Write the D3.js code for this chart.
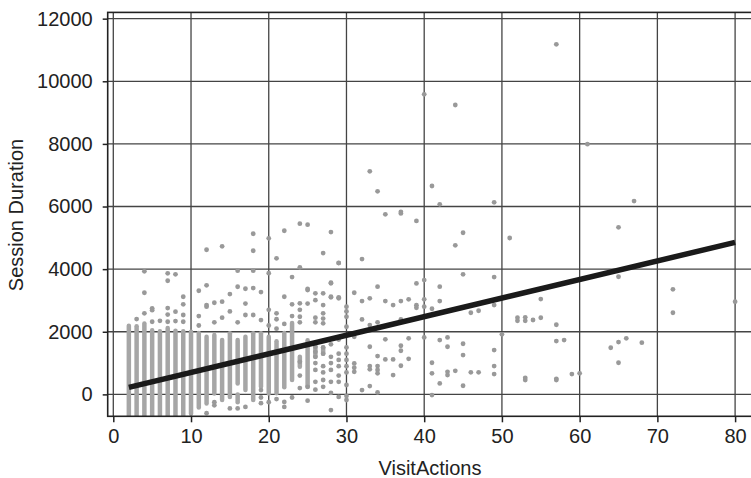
<!DOCTYPE html>
<html>
<head>
<meta charset="utf-8">
<script src="https://cdn.jsdelivr.net/npm/d3@7"></script>
<style>
  html, body { margin: 0; padding: 0; background: #fff; }
  svg { display: block; }
  text { font-family: "Liberation Sans", Arial, Helvetica, sans-serif; fill: #222; }
</style>
</head>
<body>
<svg id="chart" width="751" height="478"></svg>
<script>
// ---------- data ----------
const xTicks = [0, 10, 20, 30, 40, 50, 60, 70, 80];
const yTicks = [0, 2000, 4000, 6000, 8000, 10000, 12000];
const xLabel = "VisitActions";
const yLabel = "Session Duration";

// dense stacks of overlapping observations: [VisitActions, lowest, highest]
const denseColumns = [
  [2,-700,2190],[3,-700,2180],[4,-700,2260],[5,-700,2050],[6,-700,2020],
  [7,-700,2120],[8,-700,2030],[9,-700,2020],[10,-620,2000],[11,-420,1960],
  [12,-290,1840],[13,30,1900],[14,-180,1740],[15,-80,1950],[16,350,1740],
  [16,-250,0],[17,140,1840],[18,-180,1950],[19,240,1950],[20,30,1840],
  [21,40,1700],[22,230,1960],[23,460,2280],[24,880,1200],[25,240,1730],
  [26,1200,1520],[27,1300,1500]
];

// individual observations: [VisitActions, Session Duration]
const scatterPoints = [
  [57,11180],[40,9585],[44,9243],[61,7990],[33,7125],[34,6485],[41,6655],[42,6070],
  [49,6135],[67,6175],[35,5750],[37,5830],[37,5780],[39,5540],[65,5335],[45,5163],
  [51,4994],[44,4760],[32,4322],
  [31,3246],[34,3440],[39,3545],[40,3650],[42,3440],[45,3833],[49,3748],[32,2980],
  [33,3067],[35,2980],[36,2853],[37,2980],[38,3035],[39,2850],[39,2765],[40,3035],
  [40,2800],[41,2735],[42,2980],[32,2395],[33,2214],[34,2300],[37,2395],[46,2607],
  [47,2671],[49,2853],[55,3045],[52,2447],[52,2350],[53,2460],[53,2350],[54,2375],
  [55,2447],[57,2224],[65,3757],[72,3355],[72,2607],[80,2960],
  [31,1840],[35,1757],[38,1790],[40,1820],[33,1521],[37,1553],[37,1393],[34,1224],
  [35,1118],[36,1118],[38,1137],[37,914],[31,990],[31,850],[31,722],[33,904],[33,799],
  [34,904],[34,780],[34,671],[36,617],[32,137],[33,265],[34,64],[42,1735],[43,1820],
  [43,1521],[45,1617],[45,1256],[49,1415],[41,1010],[41,671],[42,351],[41,-22],
  [43,722],[43,617],[44,754],[45,275],[46,703],[47,703],[49,904],[49,649],[53,530],
  [57,1703],[58,1735],[57,498],[59,649],[60,671],[64,1490],[65,1671],[66,1790],
  [65,1010],[68,1650],[50,1917],[30,-180],[29,-80],[28,-500],[53,460],[57,460],
  [12,4620],[14,4728],[18,5131],[18,4588],[20,4984],[21,4345],[22,5227],[24,5451],
  [25,5419],[28,5185],[27,4514],[29,4195],[4,3930],[7,3866],[8,3834],[7,3630],
  [4,3246],[11,3310],[12,3483],[15,3205],[16,3438],[17,3374],[18,3396],[19,3268],
  [16,3950],[18,3950],[23,3748],[24,4058],[25,3365],[26,3227],[27,3227],[28,3566],
  [28,3100],[29,3100],[5,2748],[4,2588],[3,2405],[8,2640],[9,3118],[9,2875],
  [11,2500],[12,2853],[13,2927],[14,2960],[17,2535],[18,2535],[19,2374],[21,2588],
  [22,3118],[23,2875],[24,2907],[24,2700],[24,2480],[24,2300],[26,2300],[27,2853],
  [5,2320],[5,2690],[6,2350],[7,2757],[7,2550],[7,2320],[8,2340],[9,2535],[9,2320],
  [11,2200],[12,2800],[13,2300],[14,2450],[15,2650],[16,2300],[17,2900],[20,2700],
  [20,3870],[20,2200],[21,2100],[21,2400],[22,2250],[23,2500],[25,2900],[25,3330],
  [26,3010],[26,2450],[28,3550],[28,3120],[29,3070],[29,4200],[30,2800],[30,2650],
  [30,2480],[30,2160],[27,2590],[27,2420],[27,2270],
  [19,137],[19,-100],[19,-280],[20,-250],[22,-240],[25,240],[26,1520],[26,1360],
  [26,1200],[26,780],[26,400],[27,1500],[27,1300],[27,460],[27,240],[28,780],
  [28,400],[28,1200],[28,1600],[29,400],[29,900],[29,1300],[29,1750],[30,1500],
  [30,1100],[30,700],[30,300],[30,-50],[24,1040],[24,600],
  [24,200],[25,-200],[23,-100],[22,-400],[21,-150],[16,-450],[17,-400],[15,-450],
  [12,-600],[13,-350],[13,-250],[26,1000],[26,150],[27,900],[27,700],[28,1000],
  [28,50],[29,1100],[29,600],[30,900],[30,1300]
];

// fitted trend line end points
const trendX = [2, 80];
const trendY = [224, 4856];

// ---------- chart ----------
const svg = d3.select("#chart");
const x = d3.scaleLinear().domain([-0.72, 82.2]).range([107.7, 752.2]);
const y = d3.scaleLinear().domain([-700, 12200]).range([416.3, 12.4]);

const [fx0, fx1] = x.range();
const [fy1, fy0] = y.range();

svg.append("defs").append("clipPath").attr("id", "clip")
  .append("rect").attr("x", fx0).attr("y", fy0).attr("width", fx1 - fx0).attr("height", fy1 - fy0);

// grid
const grid = svg.append("g");
grid.selectAll("line.v").data(xTicks).join("line")
  .attr("x1", d => x(d)).attr("x2", d => x(d))
  .attr("y1", fy0).attr("y2", fy1)
  .attr("stroke", "#444").attr("stroke-width", 1.3);
grid.selectAll("line.h").data(yTicks).join("line")
  .attr("y1", d => y(d)).attr("y2", d => y(d))
  .attr("x1", fx0).attr("x2", fx1)
  .attr("stroke", "#444").attr("stroke-width", 1.3);

// data
const plot = svg.append("g").attr("clip-path", "url(#clip)");
plot.selectAll("line.dense").data(denseColumns).join("line")
  .attr("x1", d => x(d[0])).attr("x2", d => x(d[0]))
  .attr("y1", d => y(d[1])).attr("y2", d => y(d[2]))
  .attr("stroke", "#a6a6a6").attr("stroke-width", 4.5)
  .attr("stroke-linecap", "round");
plot.selectAll("circle").data(scatterPoints).join("circle")
  .attr("cx", d => x(d[0])).attr("cy", d => y(d[1]))
  .attr("r", 2.4).attr("fill", "#999");

plot.append("line")
  .attr("x1", x(trendX[0])).attr("y1", y(trendY[0]))
  .attr("x2", x(trendX[1])).attr("y2", y(trendY[1]))
  .attr("stroke", "#1a1a1a").attr("stroke-width", 5.5);

// frame
svg.append("rect")
  .attr("x", fx0).attr("y", fy0).attr("width", fx1 - fx0).attr("height", fy1 - fy0)
  .attr("fill", "none").attr("stroke", "#222").attr("stroke-width", 1.6);

// axes
const yAxis = svg.append("g").attr("transform", `translate(${fx0},0)`)
  .call(d3.axisLeft(y).tickValues(yTicks).tickSize(5).tickPadding(10).tickFormat(d3.format("d")));
const xAxis = svg.append("g").attr("transform", `translate(0,${fy1})`)
  .call(d3.axisBottom(x).tickValues(xTicks).tickSize(6).tickPadding(7).tickFormat(d3.format("d")));
[yAxis, xAxis].forEach(a => {
  a.select(".domain").remove();
  a.selectAll(".tick line").attr("stroke", "#222").attr("stroke-width", 1.5);
  a.selectAll(".tick text").attr("font-size", 20)
    .attr("font-family", "'Liberation Sans', Arial, Helvetica, sans-serif").attr("fill", "#222");
});

svg.append("text").attr("x", 430).attr("y", 475)
  .attr("text-anchor", "middle").attr("font-size", 20).text(xLabel);
svg.append("text").attr("transform", "translate(23,215) rotate(-90)")
  .attr("text-anchor", "middle").attr("font-size", 20).text(yLabel);
</script>
</body>
</html>
